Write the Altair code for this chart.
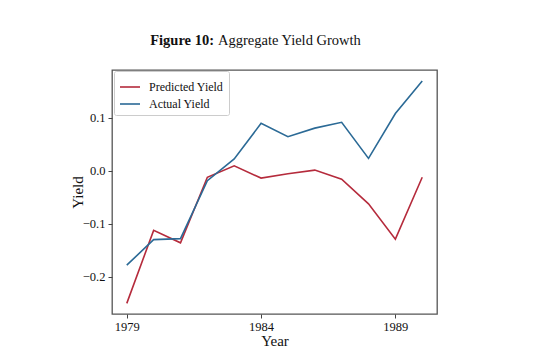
import altair as alt
import pandas as pd

years = list(range(1979, 1991))
predicted = [-0.250, -0.1125, -0.136, -0.0125, 0.009, -0.014, -0.006, 0.001, -0.016, -0.0625, -0.129, -0.0125]
actual = [-0.178, -0.130, -0.128, -0.019, 0.022, 0.089, 0.064, 0.080, 0.091, 0.023, 0.1075, 0.169]
series_names = ["Predicted Yield", "Actual Yield"]
series_colors = ["#b52b3c", "#2b6a96"]
x_ticks = [1979, 1984, 1989]
y_ticks = [-0.2, -0.1, 0.0, 0.1]
title_bold = "Figure 10:"
title_rest = "Aggregate Yield Growth"

rows = []
for y, p, a in zip(years, predicted, actual):
    rows.append({"Year": y, "Yield": p, "Series": series_names[0]})
    rows.append({"Year": y, "Yield": a, "Series": series_names[1]})
df = pd.DataFrame(rows)

FONT = "Liberation Serif"
W, H = 325, 244

lines = alt.Chart(df).mark_line(strokeWidth=1.6).encode(
    x=alt.X("Year:Q",
            scale=alt.Scale(domain=[1978.45, 1990.55], nice=False, zero=False),
            axis=alt.Axis(values=x_ticks, format="d", title="Year", grid=False,
                          labelFont=FONT, labelFontSize=12.5, labelColor="#111",
                          titleFont=FONT, titleFontSize=15, titleFontWeight="normal",
                          titleColor="#111", titlePadding=1,
                          tickColor="#444", tickSize=4, domain=False, labelPadding=2)),
    y=alt.Y("Yield:Q",
            scale=alt.Scale(domain=[-0.27, 0.1895], nice=False, zero=False),
            axis=alt.Axis(values=y_ticks, format=".1f", title="Yield", grid=False,
                          labelFont=FONT, labelFontSize=12.5, labelColor="#111",
                          titleFont=FONT, titleFontSize=15, titleFontWeight="normal",
                          titleColor="#111", titleX=-27,
                          tickColor="#444", tickSize=4, domain=False, labelPadding=3)),
    color=alt.Color("Series:N",
                    scale=alt.Scale(domain=series_names, range=series_colors),
                    sort=series_names,
                    legend=alt.Legend(title=None, orient="none", legendX=2, legendY=1,
                                      symbolType="stroke", symbolSize=400, symbolStrokeWidth=1.6,
                                      labelFont=FONT, labelFontSize=12, labelColor="#111",
                                      strokeColor="#ccc", fillColor="white", padding=5,
                                      cornerRadius=2, rowPadding=-4, labelOffset=8)),
)

tdf = pd.DataFrame({"a": [0]})
t1 = alt.Chart(tdf).mark_text(font=FONT, fontSize=14.5, fontWeight="bold", align="right",
                              baseline="alphabetic", color="#111").encode(
    x=alt.value(102), y=alt.value(-25), text=alt.value(title_bold))
t2 = alt.Chart(tdf).mark_text(font=FONT, fontSize=14.5, align="left",
                              baseline="alphabetic", color="#111").encode(
    x=alt.value(106), y=alt.value(-25), text=alt.value(title_rest))

chart = alt.layer(lines, t1, t2).properties(
    width=W, height=H,
    background="white",
    autosize=alt.AutoSizeParams(type="none"),
    padding={"left": 104, "top": 62, "right": 100, "bottom": 40},
).configure_view(stroke="#555", strokeWidth=1.3)

chart.save("out.html", embed_options={"renderer": "svg", "actions": False})
